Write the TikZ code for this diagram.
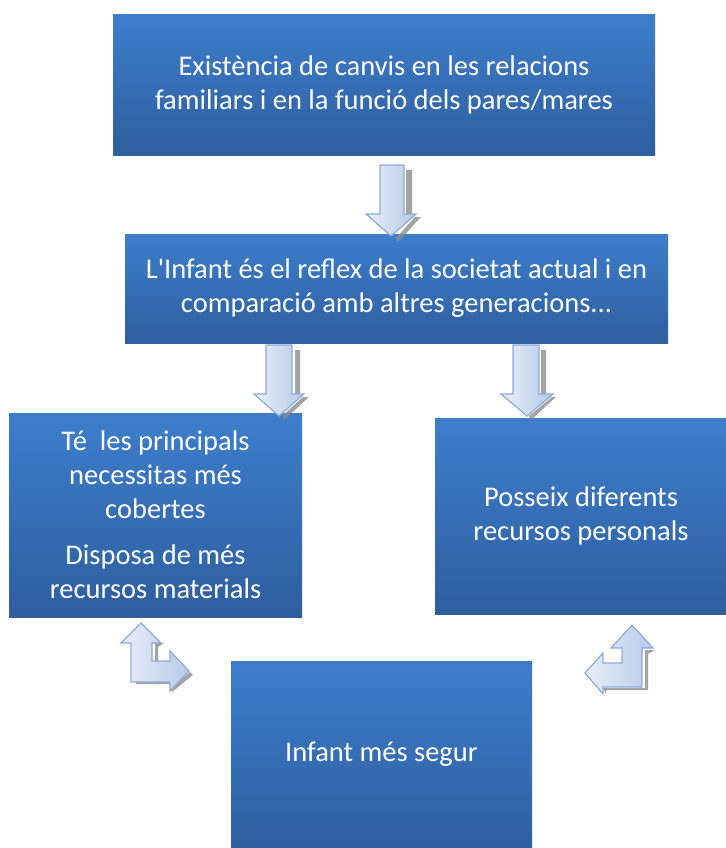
\documentclass[tikz,border=0pt]{standalone}
\usepackage{fontspec}
\newfontfamily\boxfont{Carlito}
\definecolor{boxtop}{RGB}{61,126,204}
\definecolor{boxbot}{RGB}{46,94,158}
\definecolor{arrA}{RGB}{232,239,248}
\definecolor{arrB}{RGB}{182,202,232}
\definecolor{arrEdge}{RGB}{140,170,214}
\definecolor{arrShadow}{RGB}{140,140,140}
\tikzset{
  bluebox/.style={draw=none, top color=boxtop, bottom color=boxbot, inner sep=0pt,
    text=white, align=center, font=\boxfont\fontsize{28.5}{34}\selectfont},
  blockarrow/.style={left color=arrA, right color=arrB, draw=arrEdge, line width=1.2pt, line join=miter},
  arrshadow/.style={fill=arrShadow, draw=none, opacity=0.8}
}
\begin{document}
\begin{tikzpicture}[x=1pt,y=-1pt]
\useasboundingbox (0,0) rectangle (725,848);
\fill[white] (0,0) rectangle (725,848);

% boxes
\node[bluebox, minimum width=542pt, minimum height=140pt] (b1) at (384,85)
  {Existència de canvis en les relacions\\familiars i en la funció dels pares/mares};
\node[bluebox, minimum width=543pt, minimum height=109pt] (b2) at (396.5,288.5)
  {L'Infant és el reflex de la societat actual i en\\comparació amb altres generacions...};
\node[bluebox, minimum width=293pt, minimum height=204pt] (b3) at (155.5,515)
  {Té\ \ les principals\\necessitas més\\cobertes\\[12pt]Disposa de més\\recursos materials};
\node[bluebox, minimum width=292pt, minimum height=196pt] (b4) at (581,516)
  {Posseix diferents\\recursos personals};
\node[bluebox, minimum width=301pt, minimum height=187pt] (b5) at (381.5,754.5)
  {Infant més segur};

% down arrows
\newcommand{\downarrowshape}[6]{% shaftL shaftR top headY headL headR
  (#1,#3) -- (#2,#3) -- (#2,#4) -- (#6,#4) -- ({(#5+#6)/2},#4+22) -- (#5,#4) -- (#1,#4) -- cycle}
% arrow 1
\fill[arrshadow] (406,170) -- (412,170) -- (412,217) -- (421,217) -- (398,242) -- (396,238) -- (415,217) -- (406,217) -- cycle;
\path[blockarrow] \downarrowshape{380}{404}{165}{214}{366}{416};
% arrow 2
\fill[arrshadow] (295,350) -- (300,350) -- (300,397) -- (309,397) -- (284,420) -- (282,416) -- (303,397) -- (295,397) -- cycle;
\path[blockarrow] \downarrowshape{266}{292}{345}{394}{254}{304};
% arrow 3
\fill[arrshadow] (541,350) -- (546,350) -- (546,397) -- (556,397) -- (531,420) -- (529,416) -- (552,397) -- (541,397) -- cycle;
\path[blockarrow] \downarrowshape{513}{539}{345}{394}{501}{553};

% bent arrow left
\fill[arrshadow] (136,684) -- (172,684) -- (172,692) -- (193,675) -- (190,672) -- (172,688) -- (172,682) -- (136,682) -- cycle;
\fill[arrshadow] (155,643) -- (164,643) -- (158,647) -- (158,661) -- (155,661) -- cycle;
\path[blockarrow] (141,623) -- (161,643) -- (152,643) -- (152,661) -- (170,661) -- (170,651)
  -- (189,671) -- (170,691) -- (170,682) -- (131,682) -- (131,643) -- (121,643) -- cycle;

% bent arrow right
\fill[arrshadow] (645,650) -- (655,650) -- (648,654) -- (648,690) -- (606,690) -- (606,694) -- (603,688) -- (645,688) -- cycle;
\path[blockarrow] (632,625) -- (653,648) -- (642,648) -- (642,687) -- (603,687) -- (603,694)
  -- (585,673) -- (603,653) -- (603,663) -- (622,663) -- (622,648) -- (611,648) -- cycle;
\end{tikzpicture}
\end{document}
